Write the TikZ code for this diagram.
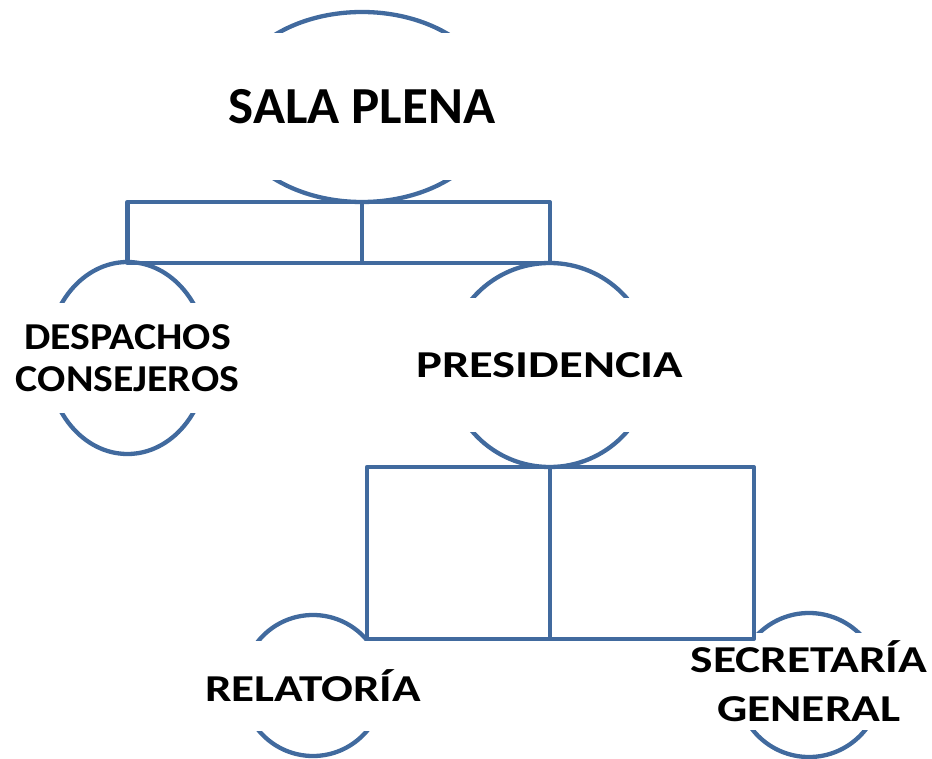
\documentclass[tikz,border=0pt]{standalone}
\usepackage{fontspec}
\usepackage{graphicx}
\setmainfont{Carlito}
\usetikzlibrary{shapes.geometric}
\definecolor{orgblue}{RGB}{65,106,158}
\newcommand\widen[2]{\scalebox{#1}[1]{#2}}

\begin{document}
\begin{tikzpicture}[x=1pt, y=-1pt,
    ring/.style={draw=orgblue, line width=4.3pt, inner sep=0pt, outer sep=0pt},
    band/.style={fill=white, inner sep=0pt, outer sep=0pt, align=center},
    big/.style={font=\fontsize{52pt}{60pt}\selectfont\bfseries},
    small/.style={font=\fontsize{38pt}{42pt}\selectfont\bfseries},
    link/.style={draw=orgblue, line width=4.3pt, line join=round}]
  \useasboundingbox (0,0) rectangle (932,759);

  % shapes
  \node[ring, ellipse, minimum width=268pt, minimum height=190pt] (sala) at (362,107) {};
  \node[ring, ellipse, minimum width=160pt, minimum height=192pt] (desp) at (127.5,358) {};
  \node[ring, circle, minimum size=204pt] (pres) at (549.7,365) {};
  \node[ring, circle, minimum size=141pt] (rel) at (313,685.5) {};
  \node[ring, circle, minimum size=144pt] (sec) at (809,685) {};

  % labels
  \node[band, big, minimum width=276pt, minimum height=147pt] (salat) at (sala) {\widen{1.02}{SALA PLENA}};
  \node[band, small, minimum width=170pt, minimum height=109pt] (despt) at (desp)
    {\widen{1.1}{DESPACHOS}\\\widen{1.1}{CONSEJEROS}};
  \node[band, small, minimum width=214pt, minimum height=134pt] (prest) at (pres) {\widen{1.28}{PRESIDENCIA}};
  \node[band, small, minimum width=150pt, minimum height=90pt] (relt) at (rel) {\widen{1.24}{RELATORÍA}};
  \node[band, font=\fontsize{38pt}{49pt}\selectfont\bfseries, minimum width=154pt, minimum height=97pt] (sect)
    at ([yshift=4pt]sec) {\widen{1.25}{SECRETARÍA}\\\widen{1.25}{GENERAL}};

  % connectors
  \draw[link] (sala.south) -- (sala.south |- desp.north);
  \draw[link] (desp.north |- sala.south) rectangle (pres.north);
  \draw[link] (pres.south) -- (pres.south |- rel.40);
  \draw[link] (rel.40 |- pres.south) rectangle (sec.140);
\end{tikzpicture}
\end{document}
